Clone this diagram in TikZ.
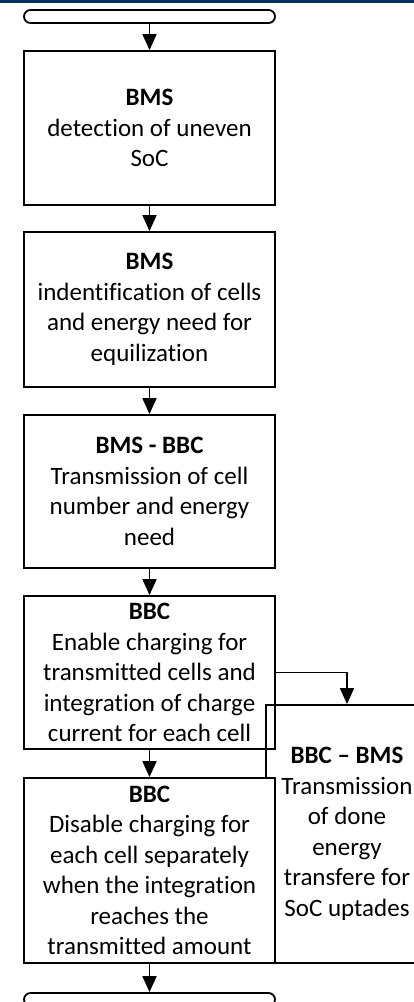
\documentclass[tikz,border=0pt]{standalone}
\usepackage{fontspec}
\setmainfont{Carlito}[Ligatures=CommonOff]
\usetikzlibrary{arrows.meta}
\definecolor{bandblue}{RGB}{0,48,96}

\begin{document}
\begin{tikzpicture}[x=1pt, y=-1pt, >={Triangle[length=16pt,width=14pt]},
  font=\fontsize{25}{30.5}\selectfont,
  box/.style={draw, line width=1.8pt, minimum width=251pt, align=center,
    inner sep=0pt, fill=white},
  bar/.style={draw, line width=1.8pt, rounded corners=6.5pt,
    minimum width=251pt, minimum height=13pt, inner sep=0pt},
  arr/.style={line width=1.8pt,->},
]
\useasboundingbox (0,0) rectangle (414,1002);
\clip (0,0) rectangle (414,1002);

% Top band
\fill[bandblue] (0,0) rectangle (414,2.5);

% Flow boxes
\node[bar] (start) at (149.5,16.5) {};
\node[box,minimum height=154pt] (detect) at (149.5,128)
  {\textbf{BMS}\\detection of uneven\\SoC};
\node[box,minimum height=155pt] (ident) at (149.5,309.5)
  {\textbf{BMS}\\indentification of cells\\and energy need for\\equilization};
\node[box,minimum height=153pt] (trans) at (149.5,491.5)
  {\textbf{BMS - BBC}\\Transmission of cell\\number and energy\\need};
\node[box,minimum height=153pt] (enable) at (149.5,672.5)
  {\textbf{BBC}\\Enable charging for\\transmitted cells and\\integration of charge\\current for each cell};

% Side box, behind the disable box
\node[box,fill=none,minimum width=162pt,minimum height=258pt] (done) at (347,834)
  {\textbf{BBC – BMS}\\Transmission\\of done\\energy\\transfere for\\SoC uptades};

\node[box,minimum height=185pt] (disable) at (149.5,870.5)
  {\textbf{BBC}\\Disable charging for\\each cell separately\\when the integration\\reaches the\\transmitted amount};
\node[bar] (stop) at (149.5,999.5) {};

% Connectors
\draw[arr] (start) -- (detect);
\draw[arr] (detect) -- (ident);
\draw[arr] (ident) -- (trans);
\draw[arr] (trans) -- (enable);
\draw[arr] (enable) -- (disable);
\draw[arr] (disable) -- (stop);
\draw[arr] (enable.east) -| (done.north);

\end{tikzpicture}
\end{document}
